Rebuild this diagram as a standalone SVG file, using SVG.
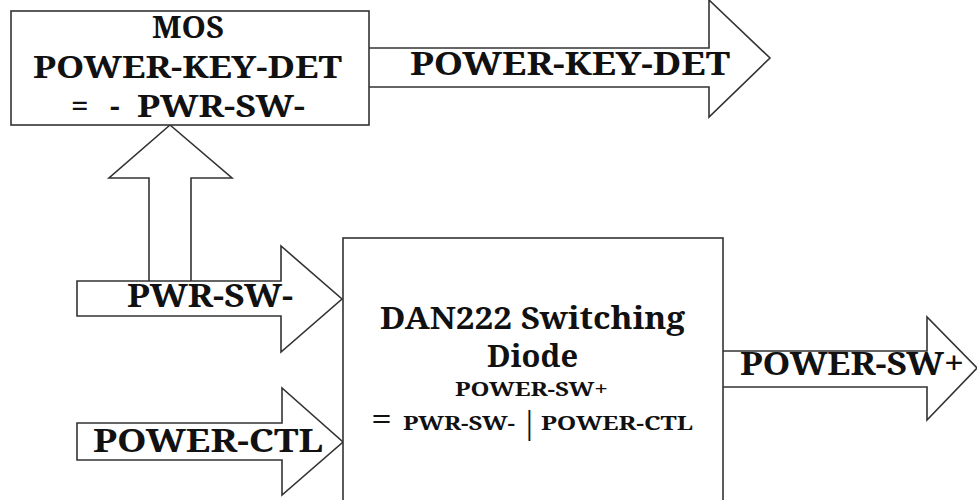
<svg xmlns="http://www.w3.org/2000/svg" width="977" height="500" viewBox="0 0 977 500">
<style>
.box{fill:#fff;stroke:#333;stroke-width:1.6}
.arr{fill:#fff;stroke:#333;stroke-width:1.6;stroke-linejoin:miter}
text{font-family:"Noto Serif","Liberation Serif","DejaVu Serif",serif;font-weight:bold;fill:#111}
.big{font-size:33px}
.mos{font-size:31px}
.mid{font-size:31px}
.sm{font-size:20px}
</style>
<rect width="977" height="500" fill="#fff"/>
<g id="connectors">
  <path id="up-arrow" class="arr" d="M149,281 L149,178 L109,178 L170,125 L232,178 L191,178 L191,281"/>
  <path id="arrow-pwr-sw" class="arr" d="M77,281 L281,281 L281,246 L342,299 L281,352 L281,316 L77,316 Z"/>
  <path id="arrow-power-ctl" class="arr" d="M77,423 L282,423 L282,388 L343,442 L282,495 L282,460 L77,460 Z"/>
  <path id="arrow-power-key-det" class="arr" d="M369,48 L709,48 L709,0 L770,58 L709,117 L709,87 L369,87"/>
  <path id="arrow-power-sw-plus" class="arr" d="M723,351 L927,351 L927,317 L977,368 L927,420 L927,387 L723,387"/>
  <text class="big" x="410" y="75" textLength="320" lengthAdjust="spacingAndGlyphs">POWER-KEY-DET</text>
  <text class="big" x="127" y="307" textLength="166" lengthAdjust="spacingAndGlyphs">PWR-SW-</text>
  <text class="big" x="93" y="452" textLength="230" lengthAdjust="spacingAndGlyphs">POWER-CTL</text>
  <text class="big" x="740" y="375" textLength="224" lengthAdjust="spacingAndGlyphs">POWER-SW+</text>
</g>
<g id="mos">
  <rect class="box" x="11" y="11" width="358" height="114"/>
  <text class="mos" x="188" y="38" text-anchor="middle">MOS</text>
  <text class="mos" x="33" y="78" textLength="309" lengthAdjust="spacingAndGlyphs">POWER-KEY-DET</text>
  <text class="mos"><tspan x="71" y="117">=</tspan><tspan x="110" y="117">-</tspan><tspan x="137" y="117" textLength="168" lengthAdjust="spacingAndGlyphs">PWR-SW-</tspan></text>
</g>
<g id="dan222">
  <rect class="box" x="343" y="238" width="380" height="270"/>
  <text class="mid" x="380" y="329" textLength="305" lengthAdjust="spacingAndGlyphs">DAN222 Switching</text>
  <text class="mid" x="487" y="367" textLength="91" lengthAdjust="spacingAndGlyphs">Diode</text>
  <text class="sm" x="455" y="396" textLength="153" lengthAdjust="spacingAndGlyphs">POWER-SW+</text>
  <text class="sm"><tspan x="371" y="431" style="font-weight:normal;font-size:32px" textLength="21" lengthAdjust="spacingAndGlyphs">=</tspan><tspan x="403" y="430" textLength="112" lengthAdjust="spacingAndGlyphs">PWR-SW-</tspan><tspan x="521" y="434" style="font-weight:normal;font-size:30px">|</tspan><tspan x="541" y="430" textLength="152" lengthAdjust="spacingAndGlyphs">POWER-CTL</tspan></text>
</g>
</svg>
